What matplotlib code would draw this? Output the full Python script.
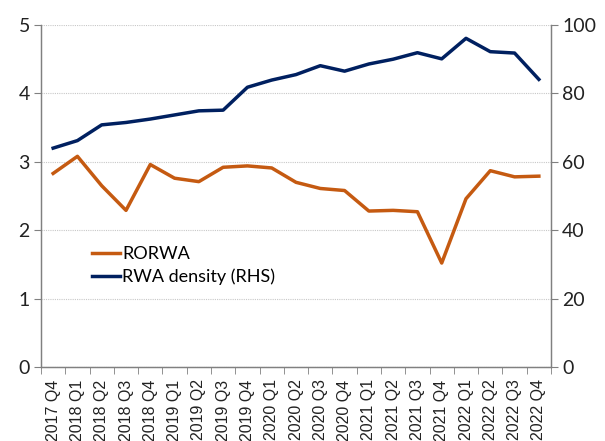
import matplotlib
matplotlib.use("Agg")
import matplotlib.pyplot as plt
import numpy as np

quarters = ["2017 Q4", "2018 Q1", "2018 Q2", "2018 Q3", "2018 Q4", "2019 Q1", "2019 Q2",
            "2019 Q3", "2019 Q4", "2020 Q1", "2020 Q2", "2020 Q3", "2020 Q4", "2021 Q1",
            "2021 Q2", "2021 Q3", "2021 Q4", "2022 Q1", "2022 Q2", "2022 Q3", "2022 Q4"]
rorwa = [2.83, 3.08, 2.65, 2.29, 2.96, 2.76, 2.71, 2.92, 2.94, 2.91, 2.70, 2.61, 2.58,
         2.28, 2.29, 2.27, 1.52, 2.46, 2.87, 2.78, 2.79]
rwa_density = [64.0, 66.2, 70.8, 71.5, 72.5, 73.7, 74.9, 75.1, 81.8, 83.9, 85.5, 88.1,
               86.5, 88.6, 90.0, 91.9, 90.1, 96.1, 92.2, 91.8, 84.1]

orange = "#C55A11"
navy = "#002060"

fig = plt.figure(figsize=(6.05, 4.41), dpi=100)
ax = fig.add_axes([41/605, 1-367/441, 510/605, 342/441])
ax2 = ax.twinx()

x = np.arange(len(quarters))
l1, = ax.plot(x, rorwa, color=orange, lw=2.5, label="RORWA", solid_joinstyle="round")
l2, = ax2.plot(x, rwa_density, color=navy, lw=2.5, label="RWA density (RHS)", solid_joinstyle="round")

ax.set_xlim(-0.5, len(quarters)-0.5)
ax.set_ylim(0, 5)
ax2.set_ylim(0, 100)
ax.set_yticks(range(0, 6))
ax2.set_yticks(range(0, 101, 20))

ax.grid(axis="y", color="#c8c8c8", linestyle=(0, (1, 1)), lw=0.8)
ax.set_axisbelow(True)

for a in (ax, ax2):
    a.spines["top"].set_visible(False)
    for s in ("left", "right", "bottom"):
        a.spines[s].set_color("#808080")
        a.spines[s].set_linewidth(0.9)

ax.set_xticks(x)
ax.set_xticklabels(quarters, rotation=90, fontsize=11.5, family="Liberation Sans", color="#222222")
ax.set_xticks(np.arange(-0.5, len(quarters)), minor=True)
ax.tick_params(axis="x", which="major", length=0, pad=9)
ax.tick_params(axis="x", which="minor", length=5, color="#808080", direction="out")
ax.tick_params(axis="y", length=5, color="#808080", labelsize=14, pad=3)
ax2.tick_params(axis="y", length=5, color="#808080", labelsize=14, pad=3)
for lab in ax.get_yticklabels() + ax2.get_yticklabels():
    lab.set_family("Lato")
    lab.set_color("#222222")

leg = ax.legend(handles=[l1, l2], loc="upper left", bbox_to_anchor=(0.085, 0.375),
                frameon=False, prop={"family": "Lato", "size": 13},
                handlelength=1.6, handletextpad=0.1, labelspacing=0.35, borderaxespad=0)

fig.savefig("out.png", dpi=100)
